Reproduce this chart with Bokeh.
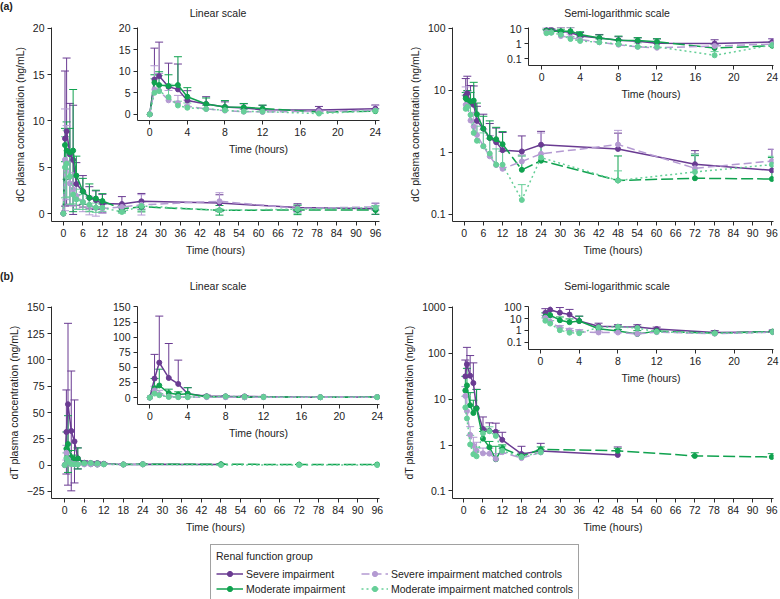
import numpy as np
from bokeh.plotting import figure
from bokeh.models import (ColumnDataSource, Whisker, TeeHead, FixedTicker, Range1d,
                          CustomJSTickFormatter, Legend, LegendItem, Div, GridBox)
from bokeh.embed import file_html
from bokeh.resources import INLINE

FONT = "Liberation Sans"
INK = "#2b2b2b"
FS = "10.5px"
nan = float("nan")

# Sampling times (hours after dose)
hours = [0, 0.5, 1, 2, 3, 4, 6, 8, 10, 12, 18, 24, 48, 72, 96]

# dC plasma concentration (ng/mL), mean and SD per renal function group
dc_severe = [0, 8.1, 8.9, 6.4, 5.8, 3.2, 2.4, 1.7, 1.45, 1.08, 1.03, 1.32, 1.13, 0.64, 0.51]
dc_severe_sd = [0, 7.3, 7.9, 5.5, 5.9, 2.3, 1.7, 1.2, 1.0, 1.0, 0.8, 0.85, 0.9, 0.42, 0.6]
dc_moderate = [0, 7.4, 6.8, 6.6, 6.8, 4.1, 2.4, 1.7, 1.62, 1.35, 0.52, 0.73, 0.35, 0.38, 0.37]
dc_moderate_sd = [0, 1.8, 3.1, 2.6, 6.6, 2.1, 1.4, 1.5, 0.9, 0.8, 0.35, 0.55, 0.52, 0.5, 0.45]
dc_severe_ctrl = [0, 5.8, 5.5, 3.25, 2.6, 1.9, 1.25, 0.86, 0.62, 0.54, 0.71, 0.94, 1.33, 0.55, 0.72]
dc_severe_ctrl_sd = [0, 5.5, 4.0, 2.3, 1.8, 1.4, 1.05, 1.0, 0.9, 0.5, 0.2, 1.1, 0.92, 0.4, 0.4]
dc_moderate_ctrl = [0, 5.0, 5.4, 4.0, 2.05, 1.53, 1.25, 0.95, 0.63, 0.63, 0.17, 0.82, 0.35, 0.48, 0.63]
dc_moderate_ctrl_sd = [0, 3.3, 3.6, 3.0, 1.0, 1.1, 0.8, 0.7, 0.5, 0.4, 0.13, 0.45, 0.15, 0.45, 0.23]

# dT plasma concentration (ng/mL), mean and SD per renal function group
dt_severe = [0, 31.5, 57.9, 32.5, 22.5, 6.4, 2.25, 2.05, 1.95, 1.3, 0.64, 0.74, 0.61, nan, nan]
dt_severe_sd = [0, 40, 77, 57, 39.5, 10, 1.85, 1.0, 1.05, 0.6, 0.3, 0.35, 0.3, nan, nan]
dt_moderate = [0, 15.5, 20, 7.4, 5.0, 6.3, 1.38, 0.9, 0.49, 0.86, 0.57, 0.81, 0.75, 0.58, 0.55]
dt_moderate_sd = [0, 16, 27, 6.5, 4.5, 10, 0.6, 0.3, 0.45, 0.15, 0.1, 0.1, 0.1, 0.1, 0.1]
dt_severe_ctrl = [0, 11.8, 5.5, 1.67, 0.98, 0.75, 0.66, 0.65, 0.5, 0.7, 0.52, 0.69, nan, nan, nan]
dt_severe_ctrl_sd = [0, 7, 6.5, 0.85, 0.5, 0.4, 0.2, 0.2, 0.15, 0.15, 0.1, 0.1, nan, nan, nan]
dt_moderate_ctrl = [0, 6.6, 3.8, 1.03, 0.63, 0.57, 1.8, 2.0, 1.58, 0.75, 0.55, 0.7, 0, 0, 0]
dt_moderate_ctrl_sd = [0, 5, 3, 0.6, 0.3, 0.3, 0.5, 0.5, 0.5, 0.2, 0.1, 0.1, 0, 0, 0]

# Axis ticks
x_ticks_main = list(range(0, 97, 6))
x_ticks_inset = list(range(0, 25, 4))
dc_lin_ticks = [0, 5, 10, 15, 20]
dt_lin_ticks = [-25, 0, 25, 50, 75, 100, 125, 150]
dc_log_ticks = [0.1, 1, 10, 100]
dc_log_inset_ticks = [0.1, 1, 10]
dt_log_ticks = [0.1, 1, 10, 100, 1000]
dt_log_inset_ticks = [0.1, 1, 10, 100]

# Group styling, in drawing order (bottom to top)
labels = ["Severe impairment", "Moderate impairment",
          "Severe impairment matched controls", "Moderate impairment matched controls"]
colors = ["#6a3b92", "#10a24f", "#b49ad2", "#66cf98"]
dashes = ["solid", "solid", "8 4", "2 3"]

dc_series = [(dc_severe, dc_severe_sd), (dc_moderate, dc_moderate_sd),
             (dc_severe_ctrl, dc_severe_ctrl_sd), (dc_moderate_ctrl, dc_moderate_ctrl_sd)]
dt_series = [(dt_severe, dt_severe_sd), (dt_moderate, dt_moderate_sd),
             (dt_severe_ctrl, dt_severe_ctrl_sd), (dt_moderate_ctrl, dt_moderate_ctrl_sd)]


def panel(w, h, border, xr, yr, log, xticks, yticks, ylabel=None):
    left, right, top, bottom = border
    p = figure(width=w, height=h, x_range=Range1d(*xr), y_range=Range1d(*yr),
               y_axis_type="log" if log else "linear", output_backend="svg",
               toolbar_location=None, min_border_left=left, min_border_right=right,
               min_border_top=top, min_border_bottom=bottom,
               background_fill_color=None, border_fill_color=None, outline_line_color=None)
    p.grid.visible = False
    p.xaxis.ticker = FixedTicker(ticks=xticks)
    p.yaxis.ticker = FixedTicker(ticks=yticks)
    if log:
        p.yaxis.formatter = CustomJSTickFormatter(code="return tick.toString();")
    p.xaxis.axis_label = "Time (hours)"
    if ylabel:
        p.yaxis.axis_label = ylabel
    for ax in p.axis:
        ax.axis_line_color = INK
        ax.major_tick_line_color = INK
        ax.major_tick_in = 0
        ax.major_tick_out = 4
        ax.minor_tick_line_color = None
        ax.major_label_standoff = 3
        ax.major_label_text_font = FONT
        ax.major_label_text_font_size = FS
        ax.major_label_text_color = "#222222"
        ax.axis_label_text_font = FONT
        ax.axis_label_text_font_size = FS
        ax.axis_label_text_font_style = "normal"
        ax.axis_label_text_color = "#222222"
        ax.axis_label_standoff = 4
    return p


def draw(p, series, log, tmax, both_bars):
    t_all = np.array(hours, float)
    for (mean, sd), color, dash, label in zip(series, colors, dashes, labels):
        m = np.array(mean, float)
        s = np.array(sd, float)
        keep = np.isfinite(m) & (t_all <= tmax)
        if log:
            keep &= m > 0
        t, m, s = t_all[keep], m[keep], s[keep]
        if label == "Moderate impairment":
            head = t <= 12
            tail = t >= 12
            p.line(t[head], m[head], line_color=color, line_width=1.5)
            p.line(t[tail], m[tail], line_color=color, line_width=1.5, line_dash="12 4")
        else:
            p.line(t, m, line_color=color, line_width=1.5, line_dash=dash)
        e = s > 0
        lo = m[e] - s[e] if both_bars else m[e]
        src = ColumnDataSource(dict(t=t[e], hi=m[e] + s[e], lo=lo))
        whisk = Whisker(source=src, base="t", upper="hi", lower="lo", dimension="height",
                        line_color=color, line_width=1,
                        upper_head=TeeHead(size=8, line_color=color, line_width=1),
                        lower_head=TeeHead(size=8, line_color=color, line_width=1) if both_bars else None)
        p.add_layout(whisk)
        p.scatter(t, m, size=5, fill_color=color, line_color=color)


def text_div(text, width, margin, bold=False, align="center"):
    body = f"<b>{text}</b>" if bold else text
    return Div(text=body, width=width, margin=margin,
               styles={"font-family": FONT, "font-size": FS, "line-height": "12px",
                       "text-align": align, "color": "#222222"})


# (a) dC, linear scale
fa = panel(390, 270, (50, 8, 27, 48), (-3.65, 97.2), (-0.86, 20.1), False,
           x_ticks_main, dc_lin_ticks, "dC plasma concentration (ng/mL)")
draw(fa, dc_series, False, 96, True)
fa_in = panel(290, 150, (30, 9, 8, 44), (-1.30, 24.44), (-1.44, 20.2), False,
              x_ticks_inset, dc_lin_ticks)
draw(fa_in, dc_series, False, 24, False)

# (a) dC, semi-logarithmic scale
fb = panel(390, 270, (61, 5, 27, 49), (-3.62, 96.5), (0.0763, 102.6), True,
           x_ticks_main, dc_log_ticks, "dC plasma concentration (ng/mL)")
draw(fb, dc_series, True, 96, False)
fb_in = panel(290, 95, (36, 7, 8, 43), (-1.37, 24.13), (0.036, 11.9), True,
              x_ticks_inset, dc_log_inset_ticks)
draw(fb_in, dc_series, True, 24, False)

# (b) dT, linear scale
fc = panel(390, 270, (51, 10, 35, 40), (-4.07, 96.7), (-31.8, 150.9), False,
           x_ticks_main, dt_lin_ticks, "dT plasma concentration (ng/mL)")
draw(fc, dt_series, False, 96, True)
fc_in = panel(290, 150, (37, 11, 10, 42), (-1.30, 24.24), (-11.5, 150.8), False,
              x_ticks_inset, dt_lin_ticks[1:])
draw(fc_in, dt_series, False, 24, False)

# (b) dT, semi-logarithmic scale
fd = panel(390, 270, (62, 5, 36, 40), (-3.5, 96.53), (0.0684, 1050), True,
           x_ticks_main, dt_log_ticks, "dT plasma concentration (ng/mL)")
draw(fd, dt_series, True, 96, False)
fd_in = panel(290, 95, (38, 7, 10, 42), (-1.24, 24.07), (0.023, 110), True,
              x_ticks_inset, dt_log_inset_ticks)
draw(fd_in, dt_series, True, 24, False)

# Shared legend: its renderers sit outside the visible x range, only the key is shown
lg = figure(width=380, height=59, output_backend="svg", toolbar_location=None,
            x_range=Range1d(1000, 1001), y_range=Range1d(0, 1),
            x_axis_location=None, y_axis_location=None, min_border=0,
            background_fill_color=None, border_fill_color=None, outline_line_color=None)
lg.grid.visible = False
items = []
for (mean, _), color, dash, label in zip(dc_series, colors, dashes, labels):
    r_line = lg.line(x=hours, y=mean, line_color=color, line_width=1.5, line_dash=dash)
    r_dot = lg.scatter(x=hours, y=mean, size=5, fill_color=color, line_color=color)
    items.append(LegendItem(label=label, renderers=[r_line, r_dot]))
legend = Legend(items=items, location="top_left", orientation="vertical", nrows=2,
                title="Renal function group", title_text_font=FONT, title_text_font_size=FS,
                title_text_font_style="normal", title_text_color="#222222", title_standoff=5,
                label_text_font=FONT, label_text_font_size=FS, label_text_color="#222222",
                label_height=13, glyph_height=13, glyph_width=27, label_standoff=3,
                label_width=113, spacing=2, padding=5, margin=4,
                border_line_color="#444444", border_line_width=1, background_fill_alpha=0)
lg.add_layout(legend)

# Panel letters and panel titles
div_a = text_div("(a)", 30, (0, 0, 0, 0), bold=True, align="left")
div_b = text_div("(b)", 30, (0, 0, 0, 0), bold=True, align="left")
title_a_lin = text_div("Linear scale", 332, (7, 0, 0, 52))
title_a_log = text_div("Semi-logarithmic scale", 324, (7, 0, 0, 65))
title_b_lin = text_div("Linear scale", 332, (10, 0, 0, 52))
title_b_log = text_div("Semi-logarithmic scale", 324, (10, 0, 0, 65))

grid = GridBox(children=[
    (fa, 0, 0, 2, 3), (fa_in, 1, 1, 1, 2),
    (fb, 0, 3, 2, 2), (fb_in, 1, 4, 1, 1),
    (fc, 2, 0, 2, 3), (fc_in, 3, 1, 1, 2),
    (fd, 2, 3, 2, 2), (fd_in, 3, 4, 1, 1),
    (lg, 4, 2, 1, 3),
    (title_a_lin, 0, 0, 1, 3), (title_a_log, 0, 3, 1, 2),
    (title_b_lin, 2, 0, 1, 3), (title_b_log, 2, 3, 1, 2),
    (div_a, 0, 0, 1, 1), (div_b, 2, 0, 1, 1),
], rows=["19px", "251px", "26px", "244px", "59px"],
   cols=["100px", "106px", "184px", "100px", "290px"])

open("out.html", "w").write(file_html(grid, INLINE))
